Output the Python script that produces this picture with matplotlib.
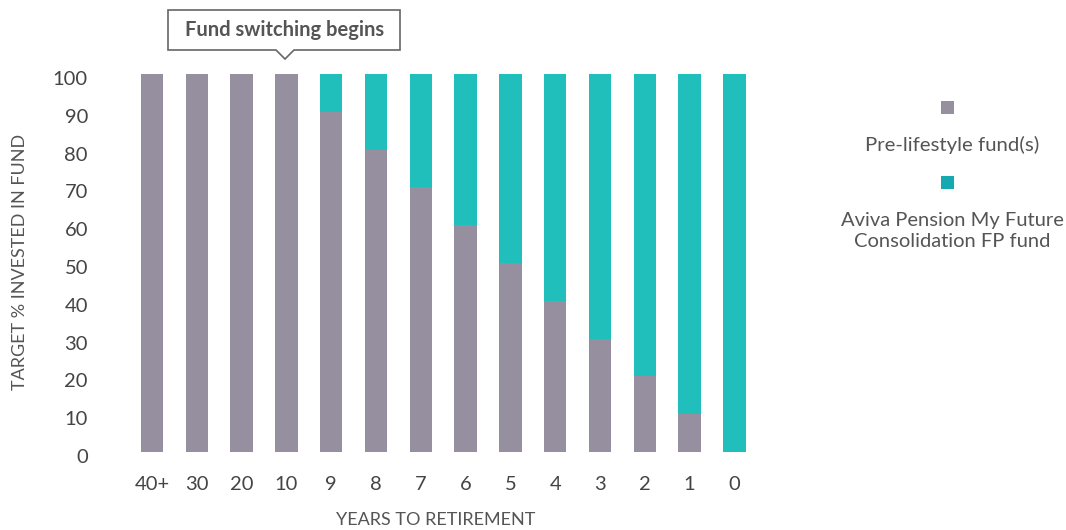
import matplotlib
matplotlib.use("Agg")
import matplotlib.pyplot as plt
from matplotlib.patches import Polygon, Rectangle
from matplotlib.transforms import ScaledTranslation

categories = ["40+", "30", "20", "10", "9", "8", "7", "6", "5", "4", "3", "2", "1", "0"]
pre_lifestyle = [100, 100, 100, 100, 90, 80, 70, 60, 50, 40, 30, 20, 10, 0]
aviva_fund = [0, 0, 0, 0, 10, 20, 30, 40, 50, 60, 70, 80, 90, 100]
y_ticks = [0, 10, 20, 30, 40, 50, 60, 70, 80, 90, 100]

GRAY = "#958fa0"
TEAL = "#20bfbb"
TEAL_LEG = "#16a9b1"
TXT = "#444444"

plt.rcParams['font.family'] = ['Lato', 'DejaVu Sans']

W, H = 1066, 530
fig = plt.figure(figsize=(W / 100, H / 100), dpi=100)

def fx(px):
    return px / W

def fy(py):
    return 1 - py / H

ax = fig.add_axes([fx(129.6), fy(452), fx(756.8) - fx(129.6), (452 - 74) / H])
x = list(range(len(categories)))
ax.bar(x, pre_lifestyle, width=0.5, color=GRAY)
ax.bar(x, aviva_fund, width=0.5, bottom=pre_lifestyle, color=TEAL)
ax.set_xlim(-0.5, len(categories) - 0.5)
ax.set_ylim(0, 100)
ax.set_xticks(x)
ax.set_xticklabels(categories)
ax.set_yticks(y_ticks)
for s in ax.spines.values():
    s.set_visible(False)
ax.tick_params(axis='both', length=0, labelsize=14.5, labelcolor=TXT)
ax.tick_params(axis='x', pad=17)
ax.tick_params(axis='y', pad=30)
off = ScaledTranslation(0, -4 / 100, fig.dpi_scale_trans)
for lbl in ax.get_yticklabels():
    lbl.set_transform(lbl.get_transform() + off)

fig.text(fx(436), fy(520), "YEARS TO RETIREMENT", ha='center', va='center',
         fontsize=13, color='#555555')
fig.text(fx(20), fy(262), "TARGET % INVESTED IN FUND", ha='center', va='center',
         rotation=90, fontsize=13, color='#555555')

# callout
pts = [(168, 10), (400, 10), (400, 50), (294, 50), (285, 59), (276, 50), (168, 50)]
poly = Polygon([(fx(a), fy(b)) for a, b in pts], closed=True, transform=fig.transFigure,
               facecolor='white', edgecolor='#666666', linewidth=1.2)
fig.patches.append(poly)
fig.text(fx(285), fy(30), "Fund switching begins", ha='center', va='center',
         fontsize=14.5, fontweight='bold', color='#555555')

# legend
sq = 13
for cy, col in [(107, GRAY), (182, TEAL_LEG)]:
    fig.patches.append(Rectangle((fx(947 - sq / 2), fy(cy + sq / 2)), sq / W, sq / H,
                                 transform=fig.transFigure, facecolor=col, edgecolor='none'))
fig.text(fx(952), fy(145), "Pre-lifestyle fund(s)", ha='center', va='center',
         fontsize=14.7, color='#555555')
fig.text(fx(952), fy(231), "Aviva Pension My Future\nConsolidation FP fund", ha='center',
         va='center', fontsize=14.5, color='#555555', linespacing=1.32)

fig.savefig("out.png", dpi=100)
